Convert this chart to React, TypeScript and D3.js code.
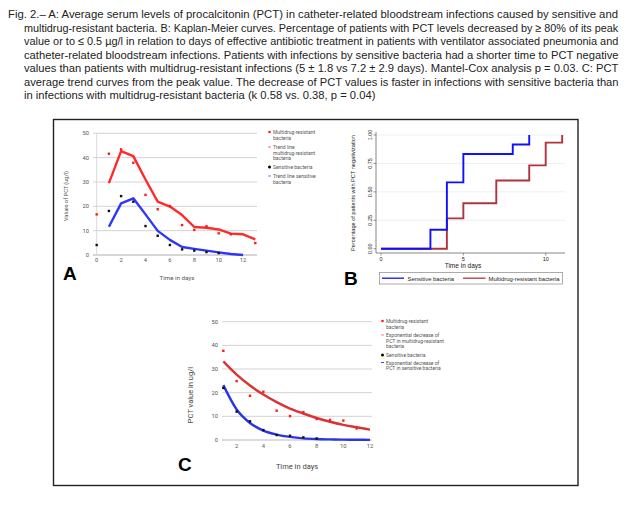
import React, { useLayoutEffect, useRef, useState } from "react";
import * as d3 from "d3";

// ---------- Caption ----------
const captionLines = [
  "Fig. 2.– A: Average serum levels of procalcitonin (PCT) in catheter-related bloodstream infections caused by sensitive and",
  "multidrug-resistant bacteria. B: Kaplan-Meier curves. Percentage of patients with PCT levels decreased by ≥ 80% of its peak",
  "value or to ≤ 0.5 µg/l in relation to days of effective antibiotic treatment in patients with ventilator associated pneumonia and",
  "catheter-related bloodstream infections. Patients with infections by sensitive bacteria had a shorter time to PCT negative",
  "values than patients with multidrug-resistant infections (5 ± 1.8 vs 7.2 ± 2.9 days). Mantel-Cox analysis p = 0.03. C: PCT",
  "average trend curves from the peak value. The decrease of PCT values is faster in infections with sensitive bacteria than",
  "in infections with multidrug-resistant bacteria (k 0.58 vs. 0.38, p = 0.04)",
];

// ---------- Panel A data ----------
const aResistantDays = [0, 1, 2, 3, 4, 5, 6, 7, 8, 9, 10, 11, 13];
const aResistantPoints = [16.7, 41.6, 43.4, 37.9, 24.7, 18.8, 20.1, 12.3, 10.3, 11.8, 8.9, 8.5, 4.9];
const aResistantTrendDays = [1, 2, 3, 4, 5, 6, 7, 8, 9, 10, 11, 12, 13];
const aResistantTrend = [29.5, 42.7, 40.6, 31.0, 21.9, 19.9, 16.4, 11.5, 11.2, 10.5, 8.8, 8.5, 6.4];
const aSensitiveDays = [0, 1, 2, 3, 4, 5, 6, 7, 8, 9, 10];
const aSensitivePoints = [4.1, 18.1, 24.2, 21.9, 11.9, 7.9, 4.1, 2.3, 1.8, 1.2, 0.8];
const aSensitiveTrendDays = [1, 2, 3, 4, 5, 6, 7, 8, 9, 10, 11, 12];
const aSensitiveTrend = [11.6, 21.2, 23.3, 16.7, 9.9, 6.2, 3.3, 2.5, 1.8, 1.1, 0.4, 0];
const aYTicks = [0, 10, 20, 30, 40, 50];
const aXTicks = [0, 2, 4, 6, 8, 10, 12];

// ---------- Panel B data ----------
const bSensitiveTimes = [0, 3, 4, 5, 8, 9];
const bSensitiveValues = [0, 0.167, 0.583, 0.833, 0.917, 1.0];
const bResistantTimes = [0, 4, 5, 7, 9, 10, 11];
const bResistantValues = [0, 0.267, 0.4, 0.6, 0.733, 0.933, 1.0];
const bYTicks = [0, 0.25, 0.5, 0.75, 1.0];
const bYTickLabels = ["0.00", "0.25", "0.50", "0.75", "1.00"];
const bXTicks = [0, 5, 10];

// ---------- Panel C data ----------
const cResistantDays = [1, 2, 3, 4, 5, 6, 7, 8, 9, 10, 11];
const cResistantPoints = [37.7, 24.9, 18.7, 20.4, 12.4, 10.1, 11.8, 8.9, 8.5, 8.2, 4.9];
const cSensitiveDays = [1, 2, 3, 4, 5, 6, 7, 8];
const cSensitivePoints = [22.0, 12.0, 7.9, 4.2, 2.1, 1.8, 1.1, 0.6];
const cCurveDays = [1, 2, 3, 4, 5, 6, 7, 8, 9, 10, 11, 12];
const cResistantCurve = [33.2, 27.6, 23.0, 19.2, 16.0, 13.3, 11.2, 9.3, 7.7, 6.4, 5.4, 4.4];
const cSensitiveCurve = [23.2, 12.9, 7.2, 4.0, 2.3, 1.3, 0.7, 0.4, 0.25, 0.15, 0.1, 0.05];
const cYTicks = [0, 10, 20, 30, 40, 50];
const cXTicks = [2, 4, 6, 8, 10, 12];

const chartFont = "Roboto, 'Noto Sans', sans-serif";
const stataFont = "'Liberation Sans', Arial, sans-serif";

function Caption() {
  const refs = useRef<(SVGTextElement | null)[]>([]);
  const [scales, setScales] = useState<number[]>(captionLines.map(() => 0.85));
  const baselines = [18, 31.5, 45, 58.5, 72, 85.5, 99];
  const starts = captionLines.map((_, i) => (i === 0 ? 8 : 24));
  const lens = captionLines.map((_, i) => (i === 6 ? 351 : 618 - starts[i]));
  useLayoutEffect(() => {
    const s = refs.current.map((el, i) => {
      if (!el) return 0.85;
      const w = el.getComputedTextLength();
      return w > 0 ? lens[i] / w : 0.85;
    });
    setScales(s);
  }, []);
  return (
    <g fontFamily="'Liberation Sans', Arial, sans-serif" fontSize={11.5} fill="#222">
      {captionLines.map((l, i) => (
        <text
          key={i}
          ref={(el) => {
            refs.current[i] = el;
          }}
          transform={`translate(${starts[i]},${baselines[i]}) scale(${scales[i]},1)`}
        >
          {l}
        </text>
      ))}
    </g>
  );
}

function PanelA() {
  const x = d3.scaleLinear().domain([0, 13]).range([96.7, 255.3]);
  const y = d3.scaleLinear().domain([0, 50]).range([255, 133.3]);
  const line = d3
    .line<[number, number]>()
    .x((d) => x(d[0]))
    .y((d) => y(d[1]));
  const red = aResistantTrendDays.map((d, i) => [d, aResistantTrend[i]] as [number, number]);
  const blue = aSensitiveTrendDays.map((d, i) => [d, aSensitiveTrend[i]] as [number, number]);
  return (
    <g fontFamily={chartFont}>
      {aYTicks.map((t) => (
        <g key={t}>
          <line x1={93} x2={257} y1={y(t)} y2={y(t)} stroke={t === 0 ? "#999" : "#c8c8c8"} strokeWidth={0.8} />
          <text x={89} y={y(t) + 2} fontSize={5.8} textAnchor="end" fill="#555">
            {t}
          </text>
        </g>
      ))}
      <line x1={x(0)} x2={x(0)} y1={y(50)} y2={y(0)} stroke="#d0d0d0" strokeWidth={0.8} />
      {aXTicks.map((t) => (
        <text key={t} x={x(t)} y={262} fontSize={5.8} textAnchor="middle" fill="#555">
          {t}
        </text>
      ))}
      <path d={line(red) || ""} fill="none" stroke="#ff2a2a" strokeWidth={2.4} strokeLinejoin="round" />
      <path d={line(blue) || ""} fill="none" stroke="#2f35ff" strokeWidth={2.4} strokeLinejoin="round" />
      {aResistantDays.map((d, i) => (
        <rect key={"r" + i} x={x(d) - 1.2} y={y(aResistantPoints[i]) - 1.2} width={2.4} height={2.4} fill="#ff1a1a" />
      ))}
      {aSensitiveDays.map((d, i) => (
        <rect key={"s" + i} x={x(d) - 1.2} y={y(aSensitivePoints[i]) - 1.2} width={2.4} height={2.4} fill="#111" />
      ))}
      <text transform="translate(68,196) rotate(-90)" fontSize={5.6} textAnchor="middle" fill="#555">
        Values of PCT (ug/l)
      </text>
      <text x={177} y={280} fontSize={6.2} textAnchor="middle" fill="#555">
        Time in days
      </text>
      <text x={63} y={280} fontSize={19} fontWeight="bold" fontFamily="'Liberation Sans', Arial, sans-serif" fill="#000">
        A
      </text>
      {/* legend */}
      <g fontSize={5} fill="#555">
        <circle cx={269.5} cy={132} r={1.3} fill="#ff1a1a" />
        <text x={273} y={134}>Multidrug-resistant</text>
        <text x={273} y={139.5}>bacteria</text>
        <line x1={268} x2={271} y1={147} y2={147} stroke="#ff6a6a" strokeWidth={1} />
        <text x={273} y={149}>Trend line</text>
        <text x={273} y={154.5}>multidrug-resistant</text>
        <text x={273} y={160}>bacteria</text>
        <circle cx={269.5} cy={167} r={1.5} fill="#000" />
        <text x={273} y={169}>Sensitive bacteria</text>
        <line x1={268} x2={271} y1={176} y2={176} stroke="#8080ff" strokeWidth={1} />
        <text x={273} y={178}>Trend line sensitive</text>
        <text x={273} y={183.5}>bacteria</text>
      </g>
    </g>
  );
}

function PanelB() {
  const x = d3.scaleLinear().domain([0, 10]).range([381, 545.7]);
  const y = d3.scaleLinear().domain([0, 1]).range([248.7, 135]);
  const step = d3
    .line<[number, number]>()
    .x((d) => x(d[0]))
    .y((d) => y(d[1]))
    .curve(d3.curveStepAfter);
  const blue = bSensitiveTimes.map((t, i) => [t, bSensitiveValues[i]] as [number, number]);
  const red = bResistantTimes.map((t, i) => [t, bResistantValues[i]] as [number, number]);
  return (
    <g fontFamily={stataFont}>
      {bYTicks.map((t, i) => (
        <g key={t}>
          {t > 0 && <line x1={376} x2={565} y1={y(t)} y2={y(t)} stroke="#e6ecef" strokeWidth={0.8} />}
          <line x1={373.5} x2={376} y1={y(t)} y2={y(t)} stroke="#555" strokeWidth={0.6} />
          <text
            transform={`translate(371.5,${y(t)}) rotate(-90)`}
            fontSize={5.5}
            textAnchor="middle"
            fill="#222"
          >
            {bYTickLabels[i]}
          </text>
        </g>
      ))}
      {bXTicks.map((t) => (
        <g key={t}>
          <line x1={x(t)} x2={x(t)} y1={253} y2={255.5} stroke="#555" strokeWidth={0.6} />
          <text x={x(t)} y={261} fontSize={5.5} textAnchor="middle" fill="#222">
            {t}
          </text>
        </g>
      ))}
      <line x1={376} x2={376} y1={132} y2={253} stroke="#555" strokeWidth={0.7} />
      <line x1={376} x2={565} y1={253} y2={253} stroke="#555" strokeWidth={0.7} />
      <path d={step(red) || ""} fill="none" stroke="#b0343f" strokeWidth={1.9} />
      <path d={step(blue) || ""} fill="none" stroke="#1010ff" strokeWidth={1.9} />
      <text transform="translate(355,193) rotate(-90)" fontSize={5.6} textAnchor="middle" fill="#222">
        Percentage of patients with PCT negativization
      </text>
      <text x={463} y={267.5} fontSize={6.5} textAnchor="middle" fill="#222">
        Time in days
      </text>
      <text x={344} y={285} fontSize={19} fontWeight="bold" fill="#000">
        B
      </text>
      <rect x={379.5} y={272.5} width={183} height={11.5} fill="#fff" stroke="#888" strokeWidth={0.7} />
      <line x1={382} x2={404} y1={278.2} y2={278.2} stroke="#1010ff" strokeWidth={1.3} />
      <text x={407.5} y={280.5} fontSize={5.9} fill="#222">
        Sensitive bacteria
      </text>
      <line x1={463} x2={485.5} y1={278.2} y2={278.2} stroke="#b0343f" strokeWidth={1.3} />
      <text x={488.5} y={280.5} fontSize={5.9} fill="#222">
        Multidrug-resistant bacteria
      </text>
    </g>
  );
}

function PanelC() {
  const x = d3.scaleLinear().domain([0, 12]).range([210, 370]);
  const y = d3.scaleLinear().domain([0, 50]).range([440, 321.7]);
  const curve = d3
    .line<[number, number]>()
    .x((d) => x(d[0]))
    .y((d) => y(d[1]))
    .curve(d3.curveMonotoneX);
  const red = cCurveDays.map((d, i) => [d, cResistantCurve[i]] as [number, number]);
  const blue = cCurveDays.map((d, i) => [d, cSensitiveCurve[i]] as [number, number]);
  return (
    <g fontFamily={chartFont}>
      {cYTicks.map((t) => (
        <g key={t}>
          <line x1={222} x2={372} y1={y(t)} y2={y(t)} stroke={t === 0 ? "#aaa" : "#c8c8c8"} strokeWidth={0.8} />
          <text x={218} y={y(t) + 2} fontSize={5.8} textAnchor="end" fill="#555">
            {t}
          </text>
        </g>
      ))}
      {cXTicks.map((t) => (
        <text key={t} x={x(t)} y={448} fontSize={5.8} textAnchor="middle" fill="#555">
          {t}
        </text>
      ))}
      <path d={curve(red) || ""} fill="none" stroke="#d93434" strokeWidth={2.4} />
      <path d={curve(blue) || ""} fill="none" stroke="#2a36e6" strokeWidth={2.4} />
      {cResistantDays.map((d, i) => (
        <rect key={"r" + i} x={x(d) - 1.2} y={y(cResistantPoints[i]) - 1.2} width={2.4} height={2.4} fill="#ff1a1a" />
      ))}
      {cSensitiveDays.map((d, i) => (
        <rect key={"s" + i} x={x(d) - 1.2} y={y(cSensitivePoints[i]) - 1.2} width={2.4} height={2.4} fill="#111" />
      ))}
      <text transform="translate(193,395) rotate(-90)" fontSize={7.5} textAnchor="middle" fill="#444">
        PCT value in ug/l
      </text>
      <text x={297} y={469} fontSize={7.5} textAnchor="middle" fill="#444">
        Time in days
      </text>
      <text x={178} y={471} fontSize={19} fontWeight="bold" fontFamily="'Liberation Sans', Arial, sans-serif" fill="#000">
        C
      </text>
      <g fontSize={5} fill="#555">
        <circle cx={382.5} cy={321} r={1.3} fill="#ff1a1a" />
        <text x={386} y={323}>Multidrug-resistant</text>
        <text x={386} y={328.5}>bacteria</text>
        <line x1={381} x2={384} y1={335} y2={335} stroke="#ff7a7a" strokeWidth={1} />
        <text x={386} y={337}>Exponential decrease of</text>
        <text x={386} y={342.5}>PCT in multidrug-resistant</text>
        <text x={386} y={348}>bacteria</text>
        <circle cx={382.5} cy={355} r={1.5} fill="#000" />
        <text x={386} y={357}>Sensitive bacteria</text>
        <line x1={381} x2={384} y1={362.5} y2={362.5} stroke="#3344ff" strokeWidth={1} />
        <text x={386} y={364.5}>Exponential decrease of</text>
        <text x={386} y={370}>PCT in sensitive bacteria</text>
      </g>
    </g>
  );
}

export default function App() {
  return (
    <svg
      width={633}
      height={512}
      viewBox="0 0 633 512"
      style={{ position: "absolute", left: 0, top: 0, background: "#fff" }}
    >
      <rect x={0} y={0} width={633} height={512} fill="#fff" />
      <Caption />
      <rect x={53.5} y={119.5} width={524.5} height={366} fill="none" stroke="#222" strokeWidth={1.4} />
      <PanelA />
      <PanelB />
      <PanelC />
    </svg>
  );
}
